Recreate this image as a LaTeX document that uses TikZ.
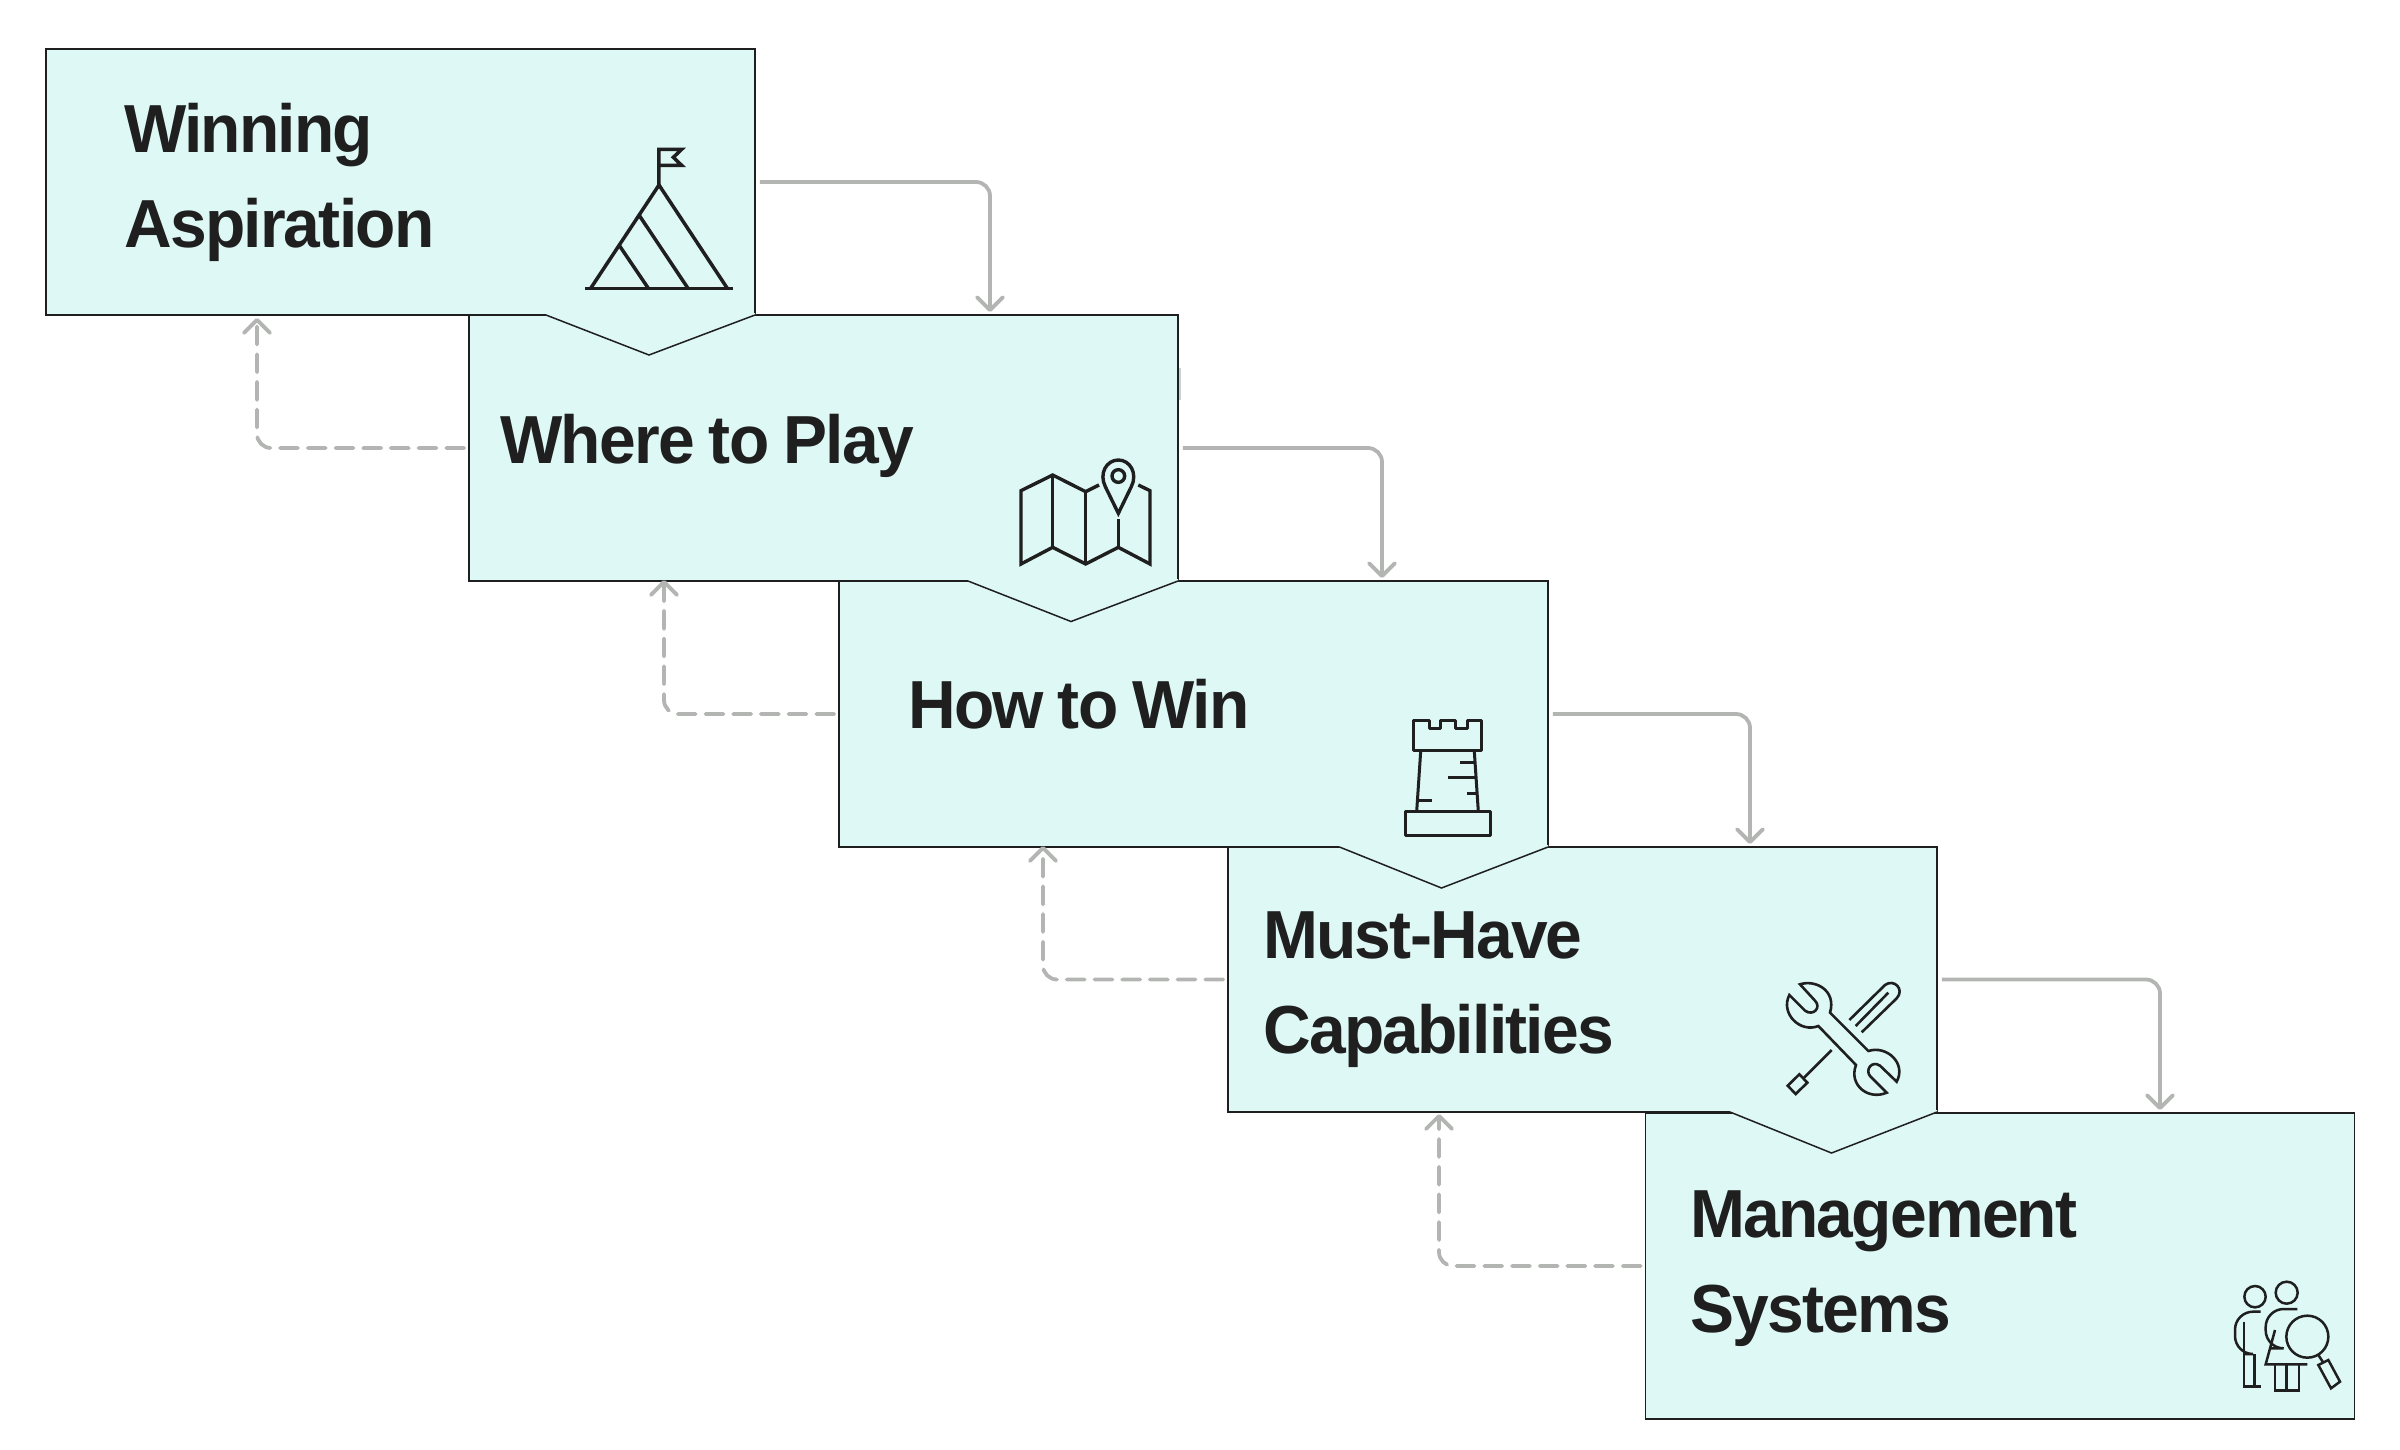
\documentclass[tikz,border=0pt]{standalone}
\usepackage{fontspec}
\setmainfont[BoldFeatures={LetterSpace=-2.6,FakeStretch=0.97,WordSpace=0.85}]{Liberation Sans}
\usetikzlibrary{arrows.meta}
\definecolor{cardteal}{HTML}{DDF8F5}
\definecolor{cardink}{HTML}{1F1F1F}
\definecolor{flowgrey}{HTML}{B3B5B3}
\tikzset{
  card/.style={draw=cardink, fill=cardteal, line width=1.5pt, minimum width=709pt, inner sep=0pt},
  cardlabel/.style={anchor=west, align=left, inner sep=0pt, text=cardink, font=\fontsize{68}{95}\selectfont\bfseries},
  flow/.style={->, draw=flowgrey, line width=3.8pt, rounded corners=14pt, shorten <=4pt, shorten >=3pt},
  backflow/.style={flow, line cap=round, dash pattern=on 18pt off 9.7pt},
  icon/.style 2 args={xshift=#1pt, yshift=-#2pt, x=0.3333pt, y=-0.3333pt, draw=cardink, line join=miter},
}
% one tip below a card
\newcommand{\chevron}[5]{
  \fill[cardteal] (#1,#3) -- (#4,#5) -- (#2,#3) -- (#2,#3-2) -- (#1,#3-2) -- cycle;
  \draw[cardink, line width=1.5pt] (#1,#3) -- (#4,#5) -- (#2,#3);
}
\begin{document}
\begin{tikzpicture}[x=1pt, y=-1pt, >={Straight Barb[length=13pt, width=26pt, round]}]
\useasboundingbox (0,0) rectangle (2400,1449);

% cards, last one first
\node[card, minimum height=306pt] (management) at (2000,1266) {};
\node[card, minimum height=265pt] (capabilities) at (1582.5,979.5) {};
\chevron{1730}{1937}{1112}{1831.5}{1153}
\node[card, minimum height=266pt] (howtowin) at (1193.5,714) {};
\chevron{1339.5}{1548}{847}{1441.5}{888}
\node[card, minimum height=266pt] (whereplay) at (823.5,448) {};
\chevron{968}{1178}{581}{1071}{621.5}
\node[card, minimum height=266pt] (aspiration) at (400.5,182) {};
\chevron{546}{755}{315}{649}{355}

\node[cardlabel] (aspirationtext) at (124,182.5) {Winning\\Aspiration};
\node[cardlabel] (whereplaytext) at (500,445.5) {Where to Play};
\node[cardlabel] (howtowintext) at (908,704) {How to Win};
\node[cardlabel] (capabilitiestext) at (1263,989.5) {Must-Have\\Capabilities};
\node[cardlabel] (managementtext) at (1690,1268.5) {Management\\Systems};

% where the arrows land
\coordinate (drop1) at (990,315);
\coordinate (drop2) at (1382,581);
\coordinate (drop3) at (1750,847);
\coordinate (drop4) at (2160,1113);
\coordinate (rise1) at (257,315);
\coordinate (rise2) at (664,577);
\coordinate (rise3) at (1043,843);
\coordinate (rise4) at (1439,1111);

\draw[flow] (aspiration.east) -| (drop1);
\draw[flow] (whereplay.east) -| (drop2);
\draw[flow] (howtowin.east) -| (drop3);
\draw[flow] (capabilities.east) -| (drop4);

\draw[backflow] (whereplay.west) -| (rise1);
\draw[backflow] (howtowin.west) -| (rise2);
\draw[backflow] (capabilities.west) -| (rise3);
\draw[backflow] (management.west) -| (rise4);

\draw[cardteal!70!cardink!60, line width=1.5pt] (1180,368) -- (1180,400);

% mountain
\begin{scope}[icon={560}{120}, line width=3.5pt]
\draw (75,505) -- (518,505);
\draw (92,505) -- (297,195) -- (502,505);
\draw (237,285) -- (384,505);
\draw (177,375) -- (265,505);
\draw (297,195) -- (297,88) -- (365,88) -- (340,112) -- (365,136) -- (297,136);
\end{scope}

% map
\begin{scope}[icon={1000}{440}, line width=3.4pt]
\draw (297,135) -- (257,155) -- (158,105) -- (63,152) -- (63,372) -- (158,322) -- (257,372) -- (355,322) -- (450,372) -- (450,152) -- (415,135);
\draw (158,105) -- (158,322);
\draw (257,155) -- (257,372);
\draw (355,238) -- (355,322);
\draw (355,220) -- (316,140) .. controls (296,100) and (320,60) .. (355,60) .. controls (390,60) and (414,100) .. (394,140) -- cycle;
\draw (355,108) circle (19);
\end{scope}

% tower
\begin{scope}[icon={1380}{700}, line width=3pt, line join=round]
\draw (100,152) -- (100,60) -- (147,60) -- (147,85) -- (180,85) -- (180,60) -- (225,60) -- (225,85) -- (262,85) -- (262,60) -- (305,60) -- (305,152) -- cycle;
\draw (122,155) -- (110,335);
\draw (283,155) -- (295,335);
\draw (76,335) rectangle (330,405);
\draw (240,187) -- (283,187);
\draw (205,233) -- (288,233);
\draw (262,279) -- (292,279);
\draw (115,301) -- (157,301);
\end{scope}

% tools
\begin{scope}[icon={1770}{970}, line width=2.6pt]
\draw (90,43) .. controls (135,28) and (200,60) .. (180,128) -- (295,243) .. controls (350,225) and (410,280) .. (380,335) -- (330,287) .. controls (305,270) and (285,300) .. (300,318) -- (350,368) .. controls (295,392) and (235,345) .. (258,285) -- (145,168) .. controls (90,190) and (30,130) .. (58,75) -- (105,122) .. controls (130,140) and (155,112) .. (135,92) -- cycle;
\draw (238,150) -- (345,45) .. controls (372,25) and (405,58) .. (380,85) -- (275,187);
\draw (257,168) -- (355,68);
\draw (185,240) -- (100,325);
\draw (88,313) -- (112,338) -- (77,372) -- (53,347) -- cycle;
\end{scope}

% people
\begin{scope}[icon={2220}{1270}, line width=2.5pt]
\draw (105,80) circle (32);
\draw[rounded corners=18pt] (122,125) -- (45,125) -- (45,252) -- (72,252);
\draw (72,155) -- (72,350) -- (122,350);
\draw (103,252) -- (103,350);
\draw (200,68) circle (33);
\draw[rounded corners=18pt] (232,117) -- (137,117) -- (137,235) -- (148,235);
\draw (165,180) -- (137,283) -- (262,283);
\draw (165,283) -- (165,362) -- (237,362) -- (237,283);
\draw (200,283) -- (200,362);
\draw (262,200) circle (63);
\draw (295,255) -- (310,278);
\draw (295,285) -- (325,270) -- (360,335) -- (333,355) -- cycle;
\end{scope}
\end{tikzpicture}
\end{document}
